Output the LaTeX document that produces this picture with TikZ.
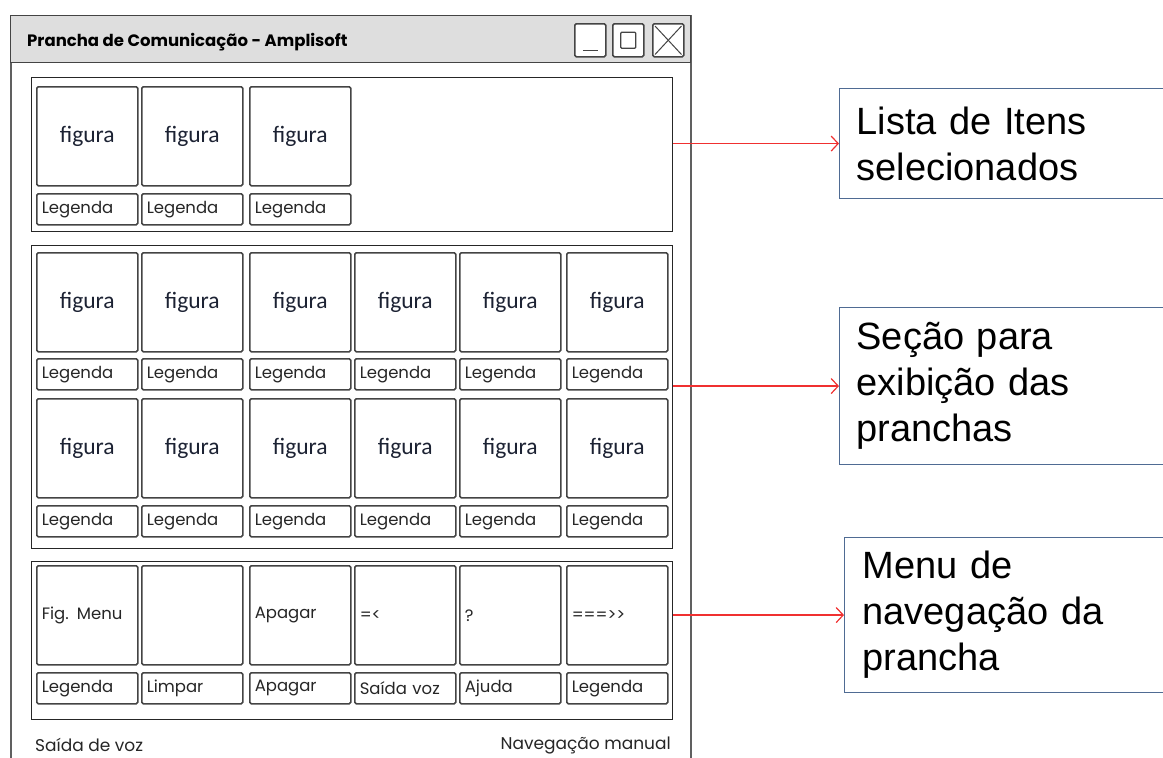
\documentclass[tikz,border=0pt]{standalone}
\usepackage{fontspec}
\usetikzlibrary{arrows.meta}
\newfontfamily\skf{Poppins}
\newfontfamily\figf{Carlito}
\newfontfamily\annf{Liberation Sans}
\definecolor{sk}{HTML}{444444}
\definecolor{pan}{HTML}{262626}
\definecolor{figtxt}{HTML}{1C2233}
\definecolor{annb}{HTML}{4F6B93}
\definecolor{redarr}{HTML}{F03030}
\definecolor{tbarfill}{HTML}{DEDEDE}
\begin{document}
\begin{tikzpicture}[x=1pt,y=-1pt,
  win/.style={draw=sk!85, line width=1.6pt, fill=white, anchor=north west, inner sep=0pt, minimum width=680pt, minimum height=780pt},
  tbar/.style={draw=sk, line width=1.4pt, fill=tbarfill, anchor=north west, inner sep=0pt, minimum width=680pt, minimum height=47pt},
  btn/.style={draw=sk, line width=1.5pt, rounded corners=1.5pt, fill=white, anchor=north west, inner sep=0pt, minimum width=31pt, minimum height=33pt},
  panel/.style={draw=pan, line width=1.2pt, anchor=north west, inner sep=0pt, minimum width=641pt},
  fig/.style={draw=sk, line width=1.5pt, rounded corners=1.5pt, anchor=north west, minimum width=101pt, minimum height=99pt, inner sep=0pt, font=\figf\fontsize{23.5}{26}\selectfont, text=figtxt},
  leg/.style={draw=sk, line width=1.5pt, rounded corners=1.5pt, anchor=north west, minimum height=31pt, text width=91pt, inner xsep=5pt, inner ysep=0pt, align=left, font=\skf\fontsize{16.5}{19}\selectfont, text=black!85},
  nav/.style={leg, minimum height=99pt},
  ann/.style={draw=annb, line width=1.1pt, anchor=north west, align=left, font=\annf\fontsize{38}{46}\selectfont, inner xsep=17pt, text width=300pt},
  arr/.style={draw=redarr, line width=1.2pt, -{Straight Barb[length=7pt,width=15pt]}},
  sktext/.style={font=\skf\fontsize{17}{20}\selectfont, text=black!85, inner sep=0pt}
]
\useasboundingbox (0,0) rectangle (1163,758);
\clip (0,0) rectangle (1163,758);

% window
\node[win] (win) at (10,15) {};
\node[tbar] (tbar) at (10,15) {};
\node[anchor=west, font=\skf\bfseries\fontsize{16.5}{19}\selectfont, inner sep=0pt] (title) at (27,42) {Prancha de Comunicação - Amplisoft};
\node[btn] (bmin) at (574,23) {};
\node[btn] (bmax) at (612,23) {};
\node[btn] (bclose) at (652,23) {};
\draw[sk, line width=1.4pt] ([xshift=-7.5pt,yshift=7pt]bmin.south) -- ([xshift=7.5pt,yshift=7pt]bmin.south);
\draw[sk, line width=1.4pt, rounded corners=1pt] ([xshift=-7.5pt,yshift=-8pt]bmax.center) rectangle ([xshift=7.5pt,yshift=8pt]bmax.center);
\draw[sk, line width=1pt] ([xshift=3pt,yshift=-3pt]bclose.north west) -- ([xshift=-3pt,yshift=3pt]bclose.south east);
\draw[sk, line width=1pt] ([xshift=-3pt,yshift=-3pt]bclose.north east) -- ([xshift=3pt,yshift=3pt]bclose.south west);

% panel 1
\node[panel, minimum height=154pt] (p1) at (31,77) {};
\foreach \x [count=\i] in {36,141,249} {
  \node[fig] (f1\i) at (\x,86) {figura};
  \node[leg] (l1\i) at (\x,193) {Legenda};
}

% panel 2
\node[panel, minimum height=303pt] (p2) at (31,245) {};
\foreach \x [count=\i] in {36,141,249,354,459,566} {
  \node[fig] (f2a\i) at (\x,252) {figura};
  \node[leg] (l2a\i) at (\x,358) {Legenda};
  \node[fig] (f2b\i) at (\x,398) {figura};
  \node[leg] (l2b\i) at (\x,505) {Legenda};
}

% panel 3
\node[panel, minimum height=158pt] (p3) at (31,561) {};
\node[nav] (n1) at (36,565) {Fig. Menu};
\node[nav] (n2) at (141,565) {};
\node[nav] (n3) at (249,565) {Apagar};
\node[nav] (n4) at (354,565) {=<};
\node[nav] (n5) at (459,565) {?};
\node[nav] (n6) at (566,565) {===>>};
\node[leg] (m1) at (36,672) {Legenda};
\node[leg] (m2) at (141,672) {Limpar};
\node[leg] (m3) at (249,672) {Apagar};
\node[leg] (m4) at (354,672) {Saída voz};
\node[leg] (m5) at (459,672) {Ajuda};
\node[leg] (m6) at (566,672) {Legenda};

% status bar
\node[sktext, anchor=west] (sv) at (35,745) {Saída de voz};
\node[sktext, anchor=east] (nm) at (671,745) {Navegação manual};

% annotations
\node[ann, minimum height=110pt] (a1) at (839,88) {Lista de Itens\\selecionados};
\node[ann, minimum height=157pt] (a2) at (839,307) {Seção para\\exibição das\\pranchas};
\node[ann, minimum height=155pt, inner xsep=18pt] (a3) at (844,537) {Menu de\\navegação da\\prancha};

\draw[arr] (p1.east |- a1.west) -- (a1.west);
\draw[arr] (p2.east |- a2.west) -- (a2.west);
\draw[arr] (p3.east |- a3.west) -- (a3.west);
\end{tikzpicture}
\end{document}
